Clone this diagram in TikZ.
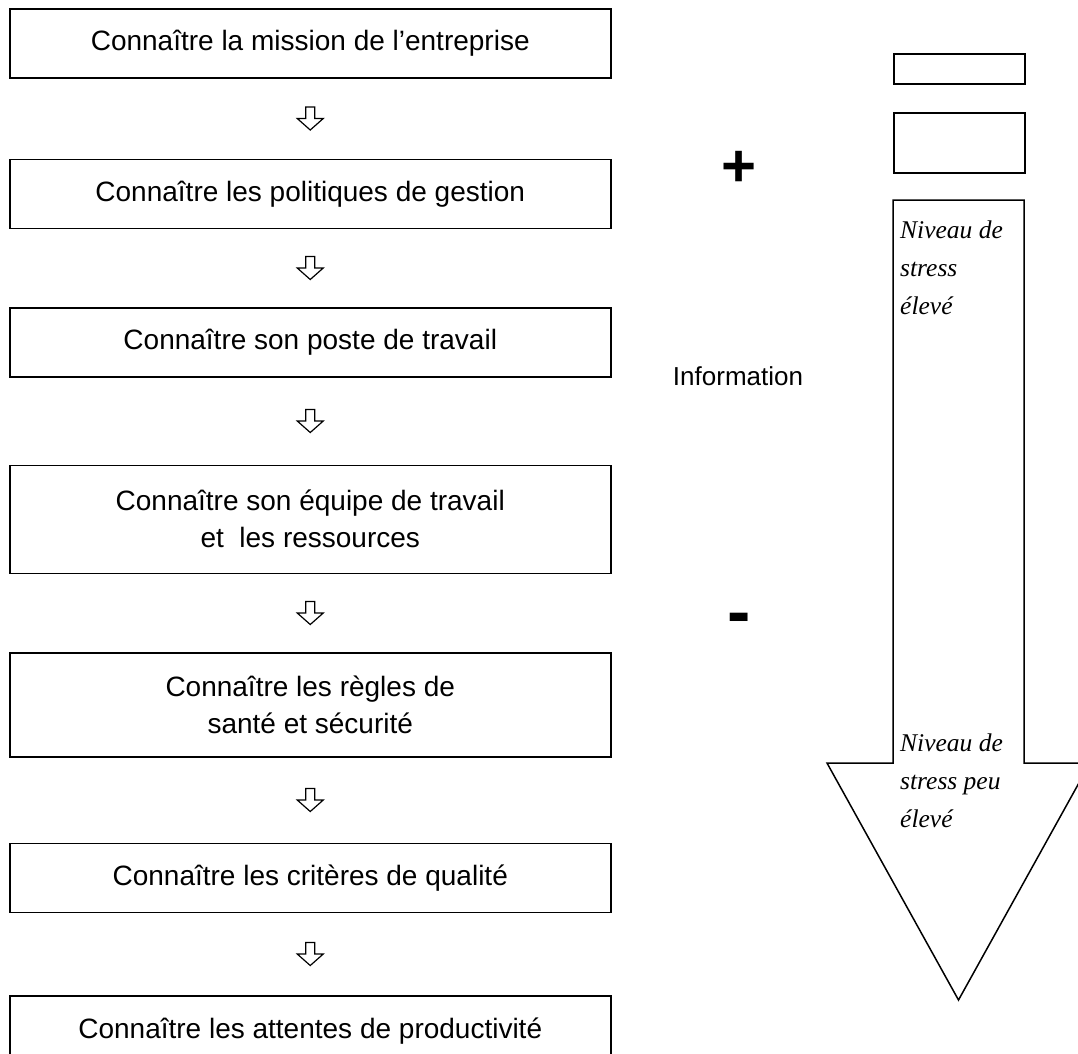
\documentclass[tikz,border=0pt]{standalone}
\usepackage{fontspec}
\setmainfont{Liberation Sans}
\newfontfamily\notefont{Liberation Serif}
\usetikzlibrary{positioning}

\begin{document}
\begin{tikzpicture}[x=1pt, y=-1pt, node distance = 80pt, auto, % pixel-like units
			block/.style={
					rectangle,
					draw,
					line width=1.5pt,
					minimum width=601pt,
					minimum height=69pt,
					align=center,
					font=\fontsize{28}{37}\selectfont,
					inner sep=0pt
				},
			tallblock/.style={block, minimum height=106pt},
			flechecreuse/.pic={\draw [line width=1.2pt, line join=miter]
					(-4.5,-11.5) -- (4.5,-11.5) -- (4.5,0) -- (13,0) -- (0,11.5)
					-- (-13,0) -- (-4.5,0) -- cycle;},
			cadre/.style={rectangle, draw, line width=1.5pt, minimum width=131pt, anchor=north west, inner sep=0pt},
			note/.style={anchor=north west, align=left, inner sep=0pt,
					font=\notefont\itshape\fontsize{25.5}{38}\selectfont},
			signe/.style={font=\bfseries\fontsize{60}{60}\selectfont, inner sep=0pt}
		]
		\useasboundingbox (0,0) rectangle (1078,1053);
		% Place nodes
		\node [block, anchor=north west] (mission) at (9,8) {Connaître la mission de l’entreprise};
		\node [block, below=80pt of mission] (politiques) {Connaître les politiques de gestion};
		\node [block, below=78pt of politiques] (poste) {Connaître son poste de travail};
		\node [block, below=87pt of poste, minimum height=108pt] (equipe) {Connaître son équipe de travail\\ et\ \ les ressources};
		\node [tallblock, below=78pt of equipe, minimum height=104pt] (sante) {Connaître les règles de\\ santé et sécurité};
		\node [block, below=85pt of sante] (qualite) {Connaître les critères de qualité};
		\node [block, below=82pt of qualite, minimum height=70pt] (productivite) {Connaître les attentes de productivité};
		% Right side
		\node [cadre, minimum height=30pt] (case1) at (893,53) {};
		\node [cadre, minimum height=60pt] (case2) at (893,112) {};
		\draw [line width=1.5pt] (893,200) coordinate (stress) -- (1024,200) -- (1024,763) -- (1090,763)
			-- (958.5,1000) coordinate (pointe) -- (827,763) -- (893,763) -- cycle;
		\node [note] (eleve) at (900,221) {Niveau de\\stress\\élevé};
		\node [note] (peueleve) at (900,734) {Niveau de\\stress peu\\élevé};
		\node [signe] (plus) at (739,169) {+};
		\node [signe, font=\bfseries\fontsize{70}{70}\selectfont] (moins) at (739,624) {-};
		\node [font=\fontsize{26}{30}\selectfont, inner sep=0pt] (info) at (738,376) {Information};
		% Draw edges
		\path (mission.south) -- pic [pos=0.5] {flechecreuse} (politiques.north);
		\path (politiques.south) -- pic [pos=0.5] {flechecreuse} (poste.north);
		\path (poste.south) -- pic [pos=0.5] {flechecreuse} (equipe.north);
		\path (equipe.south) -- pic [pos=0.5] {flechecreuse} (sante.north);
		\path (sante.south) -- pic [pos=0.5] {flechecreuse} (qualite.north);
		\path (qualite.south) -- pic [pos=0.5] {flechecreuse} (productivite.north);
	\end{tikzpicture}
\end{document}
